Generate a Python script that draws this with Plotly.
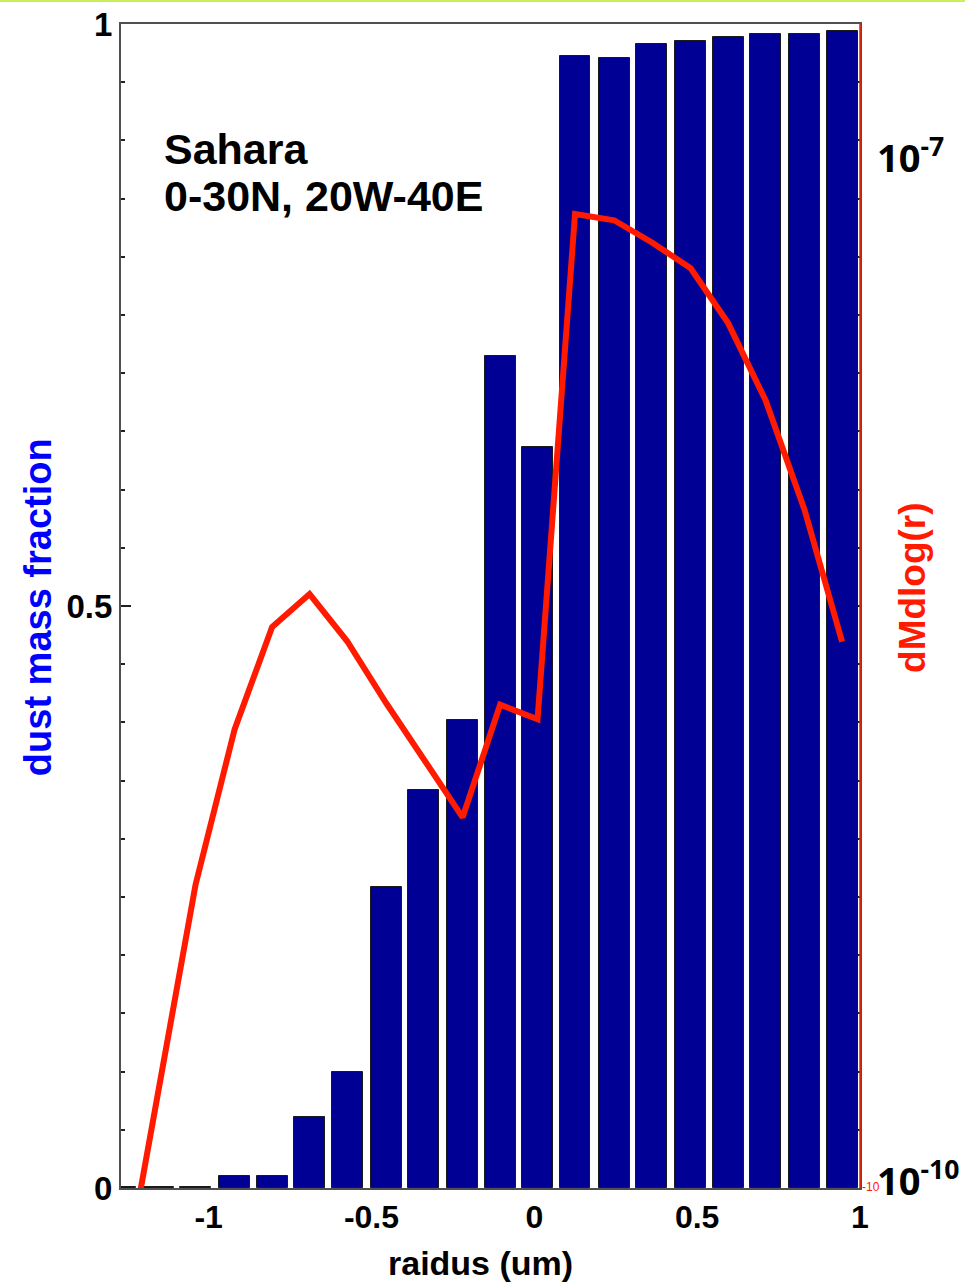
import plotly.graph_objects as go

# ---- data ----
radius_log = [-1.27, -1.155, -1.04, -0.92, -0.805, -0.69, -0.575, -0.455, -0.34, -0.22,
              -0.105, 0.01, 0.125, 0.245, 0.36, 0.48, 0.595, 0.71, 0.83, 0.945]
mass_fraction = [0.001, 0.001, 0.001, 0.010, 0.010, 0.061, 0.100, 0.259, 0.342, 0.402,
                 0.715, 0.637, 0.9725, 0.971, 0.983, 0.985, 0.989, 0.991, 0.991, 0.994]
dMdlogr = [4.7e-11, 1.9e-10, 7.7e-10, 2.19e-9, 4.35e-9, 5.43e-9, 3.96e-9, 2.61e-9, 1.78e-9, 1.21e-9,
           2.58e-9, 2.34e-9, 7.0e-8, 6.71e-8, 5.79e-8, 4.86e-8, 3.36e-8, 2.0e-8, 9.55e-9, 3.94e-9]

x_tickvals = [-1, -0.5, 0, 0.5, 1]
x_ticktext = ["<b>-1</b>", "<b>-0.5</b>", "<b>0</b>", "<b>0.5</b>", "<b>1</b>"]
y_tickvals = [0, 0.5, 1]
y_ticktext = ["<b>0</b>", "<b>0.5</b>", "<b>1</b>"]

FONT = "Liberation Sans, Arial, sans-serif"
AXC = "#505050"
RED = "#FF1A00"

fig = go.Figure()
fig.add_trace(go.Bar(
    x=radius_log, y=mass_fraction, width=0.095,
    marker=dict(color="#000094", line=dict(color="#1a1a1a", width=1)),
    yaxis="y", showlegend=False,
))
fig.add_trace(go.Scatter(
    x=radius_log, y=dMdlogr, mode="lines",
    line=dict(color=RED, width=6), yaxis="y2", showlegend=False,
))

fig.update_layout(
    width=965, height=1288,
    margin=dict(l=121, r=105, t=24, b=100, autoexpand=False),
    paper_bgcolor="white", plot_bgcolor="white",
    font=dict(family=FONT, color="black", size=32),
    xaxis=dict(
        range=[-1.269, 1.0], tickvals=x_tickvals, ticktext=x_ticktext,
        showline=True, linecolor=AXC, linewidth=2, mirror=True,
        ticks="", showgrid=False, zeroline=False, automargin=False,
        tickfont=dict(size=32, family=FONT), layer="below traces",
    ),
    yaxis=dict(
        range=[0, 1], tickvals=y_tickvals, ticktext=y_ticktext,
        showline=True, linecolor=AXC, linewidth=2, mirror="ticks",
        ticks="inside", ticklen=10, tickwidth=1.5, tickcolor="#222",
        minor=dict(dtick=0.05, ticks="inside", ticklen=4, tickwidth=1.5, tickcolor="#222"),
        showgrid=False, zeroline=False, automargin=False,
        tickfont=dict(size=33, family=FONT), layer="below traces",
    ),
    yaxis2=dict(
        type="log", range=[-10, -6.6], overlaying="y", side="right", automargin=False,
        showticklabels=False, ticks="", showline=False, showgrid=False, zeroline=False,
    ),
    bargap=0,
)

ann = []
ann.append(dict(text="<b>dust mass fraction</b>", xref="paper", yref="paper", x=(38 - 121) / 739, y=0.499,
                textangle=-90, showarrow=False, xanchor="center", yanchor="middle",
                font=dict(size=38, color="#0000FF", family=FONT)))
ann.append(dict(text="<b>dMdlog(r)</b>", xref="paper", yref="paper", x=(913 - 121) / 739, y=0.5155,
                textangle=-90, showarrow=False, xanchor="center", yanchor="middle",
                font=dict(size=37, color=RED, family=FONT)))
ann.append(dict(text="<b>raidus (um)</b>", xref="paper", yref="paper", x=(480 - 121) / 739, y=-0.0644,
                showarrow=False, xanchor="center", yanchor="middle",
                font=dict(size=34, color="black", family=FONT)))
ann.append(dict(text="<b>Sahara</b>", xref="paper", yref="paper", x=(162 - 121) / 739, y=0.8926,
                showarrow=False, xanchor="left", yanchor="middle",
                font=dict(size=43, color="black", family=FONT)))
ann.append(dict(text="<b>0-30N, 20W-40E</b>", xref="paper", yref="paper", x=(162 - 121) / 739, y=0.8522,
                showarrow=False, xanchor="left", yanchor="middle",
                font=dict(size=43, color="black", family=FONT)))
ann.append(dict(text="<b>10<sup>-7</sup></b>", xref="paper", yref="paper", x=(875 - 121) / 739,
                y=(1188 - 155) / 1164, showarrow=False, xanchor="left", yanchor="middle",
                font=dict(size=38, color="black", family="Open Sans, sans-serif")))
ann.append(dict(text="<b>10<sup>-10</sup></b>", xref="paper", yref="paper", x=(875 - 121) / 739,
                y=(1188 - 1178) / 1164, showarrow=False, xanchor="left", yanchor="middle",
                font=dict(size=38, color="black", family="Open Sans, sans-serif")))
ann.append(dict(text="-10", xref="paper", yref="paper", x=(860 - 121) / 739,
                y=(1188 - 1187) / 1164, showarrow=False, xanchor="left", yanchor="middle",
                font=dict(size=12, color=RED, family=FONT)))
fig.update_layout(annotations=ann)

fig.update_layout(shapes=[
    dict(type="line", xref="paper", yref="paper", x0=1, x1=1, y0=0, y1=1,
         line=dict(color=RED, width=1.5), layer="above"),
    dict(type="line", xref="paper", yref="paper", x0=-121 / 739, x1=(965 - 121) / 739,
         y0=1 + 23 / 1164, y1=1 + 23 / 1164, line=dict(color="rgb(200,240,90)", width=2)),
])

fig.write_html("out.html")
